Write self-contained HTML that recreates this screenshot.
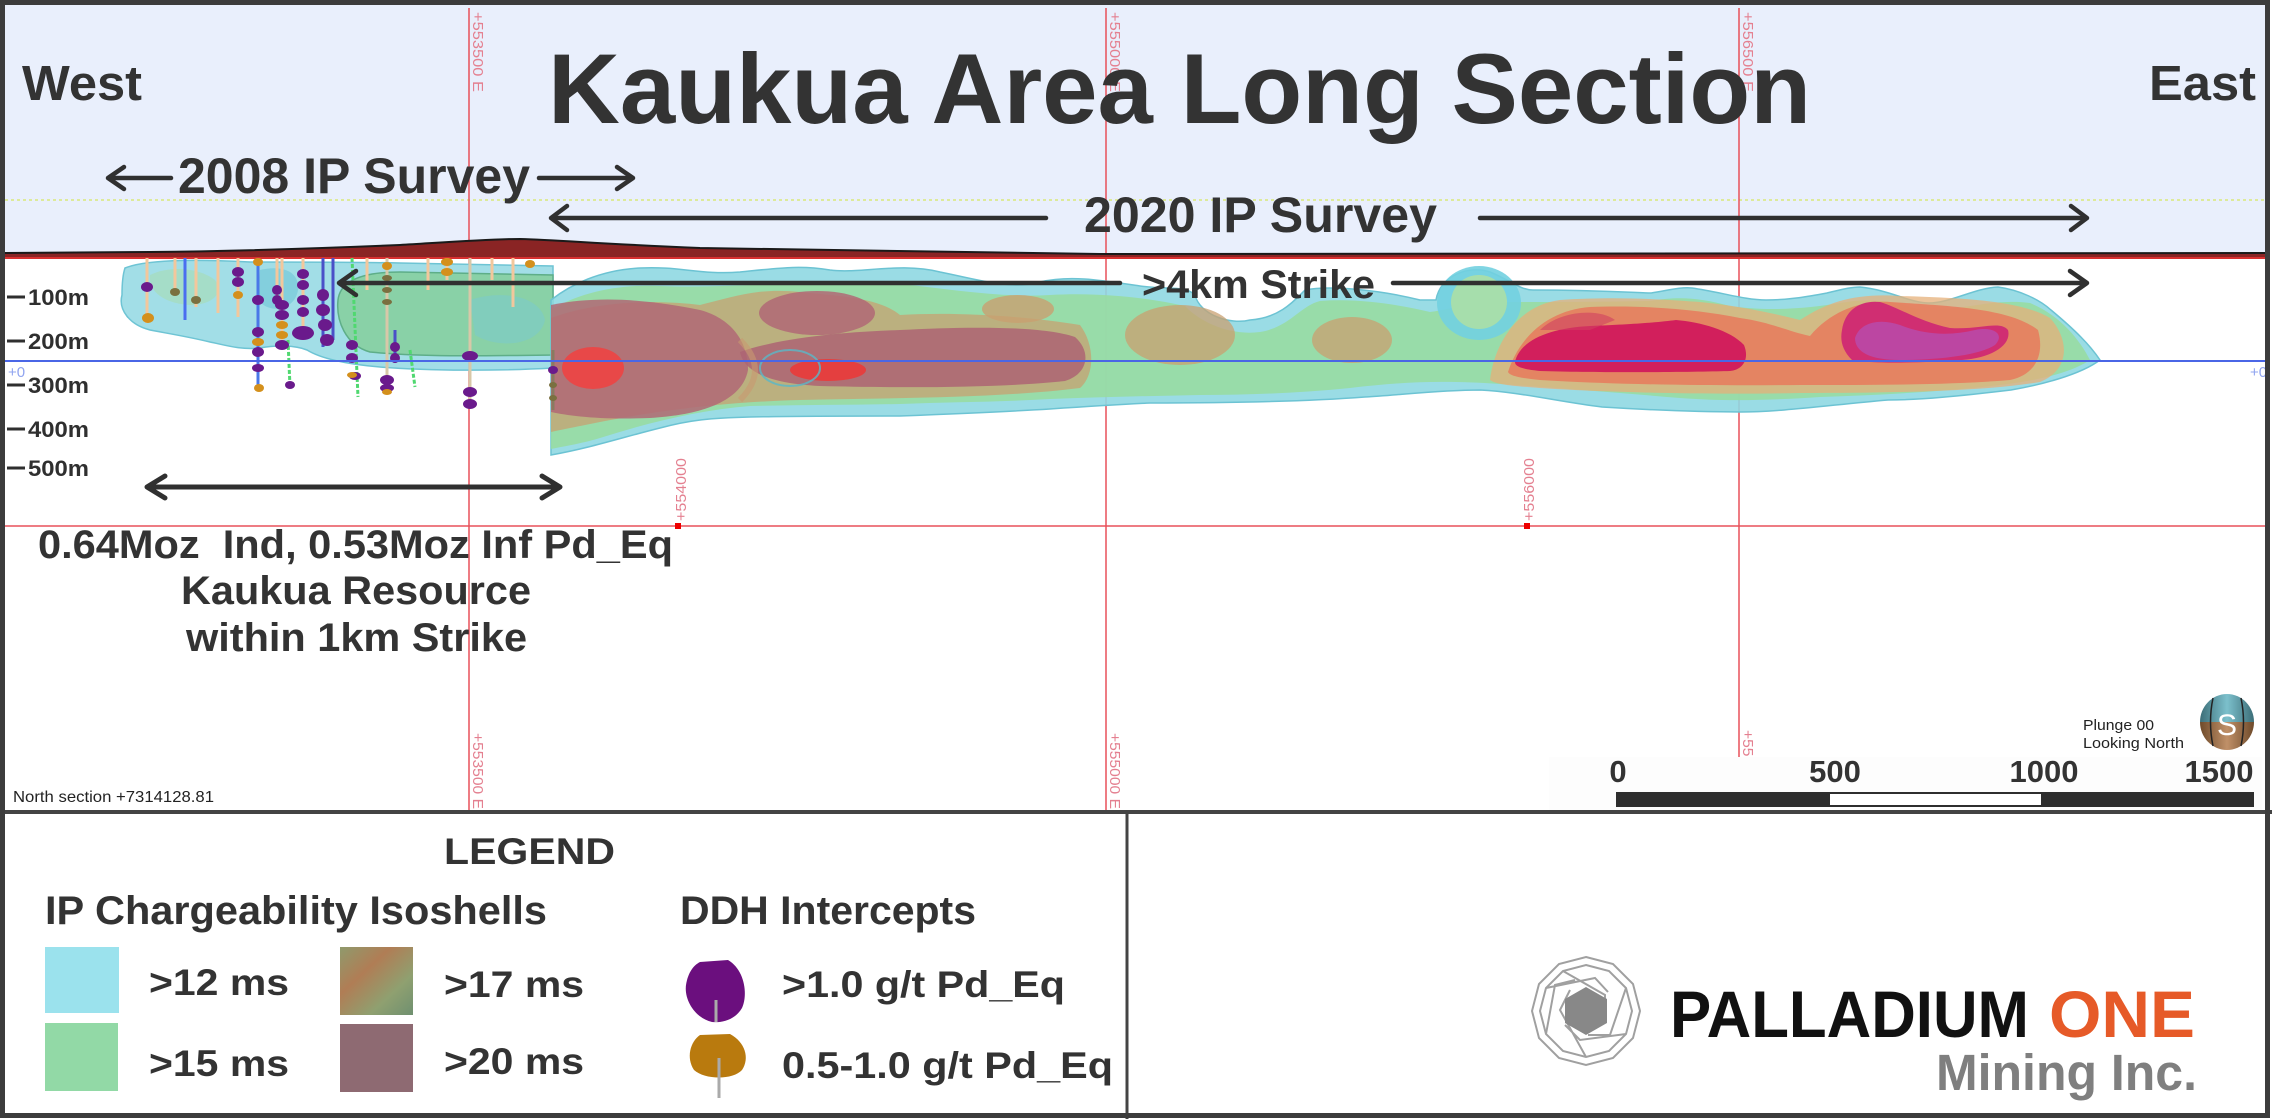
<!DOCTYPE html>
<html><head><meta charset="utf-8"><style>
html,body{margin:0;padding:0;background:#fff;}
svg{display:block;}
text{font-family:"Liberation Sans",Arial,sans-serif;}
</style></head><body>
<svg width="2272" height="1119" viewBox="0 0 2272 1119" xmlns="http://www.w3.org/2000/svg">
<defs>
<linearGradient id="g17" x1="0" y1="0" x2="1" y2="1"><stop offset="0" stop-color="#8f9a6c"/><stop offset="0.35" stop-color="#b07d55"/><stop offset="0.7" stop-color="#8fa070"/><stop offset="1" stop-color="#6f9070"/></linearGradient>
<linearGradient id="gc" x1="0" y1="0" x2="1" y2="0"><stop offset="0" stop-color="#3c6e78"/><stop offset="0.5" stop-color="#7cc0cc"/><stop offset="1" stop-color="#3c6e78"/></linearGradient>
<linearGradient id="gb" x1="0" y1="0" x2="1" y2="0"><stop offset="0" stop-color="#6e4a2a"/><stop offset="0.5" stop-color="#c09068"/><stop offset="1" stop-color="#6e4a2a"/></linearGradient>
</defs>
<rect x="0" y="0" width="2272" height="1119" fill="#fff"/>
<!-- top band -->
<rect x="5" y="5" width="2260" height="252" fill="#e9effc"/>
<line x1="5" y1="200" x2="2265" y2="200" stroke="#d9e87a" stroke-width="1.5" stroke-dasharray="3 3"/>

<!-- red grid verticals -->
<g stroke="#e8505a" stroke-width="1.5">
<line x1="469" y1="8" x2="469" y2="811"/>
<line x1="1106" y1="8" x2="1106" y2="811"/>
<line x1="1739" y1="8" x2="1739" y2="811"/>
<line x1="5" y1="526" x2="2265" y2="526"/>
</g>
<g font-size="15" fill="#e48090">
<text transform="translate(473,12) rotate(90)" textLength="80" lengthAdjust="spacingAndGlyphs">+553500 E</text>
<text transform="translate(1110,12) rotate(90)" textLength="80" lengthAdjust="spacingAndGlyphs">+555000 E</text>
<text transform="translate(1743,12) rotate(90)" textLength="80" lengthAdjust="spacingAndGlyphs">+556500 E</text>
<text transform="translate(473,733) rotate(90)" textLength="76" lengthAdjust="spacingAndGlyphs">+553500 E</text>
<text transform="translate(1110,733) rotate(90)" textLength="76" lengthAdjust="spacingAndGlyphs">+555000 E</text>
<text transform="translate(1743,730) rotate(90)" textLength="76" lengthAdjust="spacingAndGlyphs">+556500 E</text>
<text transform="translate(686,521) rotate(-90)" textLength="63" lengthAdjust="spacingAndGlyphs">+554000</text>
<text transform="translate(1534,521) rotate(-90)" textLength="63" lengthAdjust="spacingAndGlyphs">+556000</text>
</g>
<rect x="675" y="523" width="6" height="6" fill="#e00"/>
<rect x="1524" y="523" width="6" height="6" fill="#e00"/>

<!-- topography -->
<path d="M5 253 L150 252 C250 251,330 248,400 245 C450 242,490 239,520 239 C560 240,600 244,700 248 C800 250,950 252,1100 254 L2265 253 L2265 259 L5 259 Z" fill="#8a2424"/>
<path d="M5 253 L150 252 C250 251,330 248,400 245 C450 242,490 239,520 239 C560 240,600 244,700 248 C800 250,950 252,1100 254 L2265 253" fill="none" stroke="#1a1a1a" stroke-width="2"/>
<line x1="5" y1="258" x2="2265" y2="258" stroke="#d83030" stroke-width="2"/>

<!-- WEST isoshells -->
<g>
<path d="M125 268 C150 258,210 260,250 262 C300 262,350 262,400 263 L553 266 L553 368 C500 371,430 371,380 367 C345 364,320 358,307 350 C295 345,275 345,260 348 C240 350,225 345,210 342 C185 336,165 333,150 330 C130 325,118 310,122 295 C122 282,123 274,125 268 Z" fill="#92d8e3" fill-opacity="0.85" stroke="#6ec4d4" stroke-width="1.5"/>
<path d="M150 275 C170 265,200 268,215 280 C225 295,210 305,190 305 C170 304,148 295,150 275 Z" fill="#a6dcc0" fill-opacity="0.8"/>
<path d="M260 270 C280 265,300 270,298 290 C295 310,270 315,258 300 Z" fill="#76c9d9" fill-opacity="0.7"/>
<path d="M338 300 C340 282,360 272,400 272 L553 275 L553 355 C480 356,420 357,370 352 C345 345,336 320,338 300 Z" fill="#86cfa0" fill-opacity="0.9" stroke="#5eae88" stroke-width="1.5"/>
<path d="M470 300 C500 290,540 295,545 320 C540 345,500 350,475 335 Z" fill="#7cc9c9" fill-opacity="0.6"/>
</g>

<!-- EAST isoshells -->
<g>
<!-- cyan envelope -->
<path d="M551 300 C570 285,600 270,640 268 C680 266,700 275,740 272 C780 268,800 265,830 270 C860 274,900 262,940 272 C980 280,1010 290,1040 282 C1070 275,1100 280,1140 286 C1170 290,1185 285,1195 295 C1200 315,1230 325,1250 320 C1280 318,1295 300,1305 290 C1330 285,1380 290,1420 300 L1436 300 C1440 275,1470 265,1490 272 C1510 280,1520 290,1533 290 C1600 290,1640 293,1651 293 C1670 290,1680 287,1692 288 C1720 292,1745 300,1766 300 C1790 300,1810 296,1827 293 C1840 290,1850 287,1860 287 C1890 290,1910 303,1929 303 C1950 303,1975 288,1998 287 C2020 290,2040 300,2051 310 C2075 330,2090 345,2100 360 C2080 375,2040 385,2011 390 C1960 396,1920 400,1888 400 C1830 405,1780 412,1741 412 C1700 412,1650 410,1602 407 C1560 402,1520 392,1480 390 C1440 390,1400 395,1365 397 C1300 402,1220 403,1150 403 C1110 405,1080 407,1050 409 C1000 412,950 414,900 416 C850 416,800 416,750 417 C710 418,690 420,660 428 C620 438,590 448,551 455 Z" fill="#8fd8e2" fill-opacity="0.9" stroke="#6cc3d3" stroke-width="1.5"/>
<!-- green -->
<path d="M551 310 C580 292,620 284,660 286 C700 288,740 285,780 284 C820 283,860 280,900 284 C950 289,1000 298,1050 295 C1100 292,1150 298,1185 306 C1200 322,1230 336,1260 332 C1290 327,1300 306,1320 301 C1360 298,1400 305,1430 312 C1460 308,1480 298,1500 302 C1540 302,1600 302,1650 301 C1680 296,1700 298,1730 306 C1770 312,1810 308,1840 303 C1870 298,1890 300,1920 310 C1960 312,1990 298,2030 303 C2060 315,2080 340,2090 360 C2070 373,2040 380,2000 385 C1940 392,1880 395,1820 397 C1760 401,1720 401,1680 398 C1620 393,1560 388,1500 384 C1440 380,1400 382,1350 388 C1300 393,1250 395,1200 395 C1150 396,1100 397,1050 399 C1000 402,950 402,900 404 C850 405,800 405,750 406 C700 410,650 422,600 438 C580 444,560 447,551 449 Z" fill="#98dba2" fill-opacity="0.9"/>
<!-- tan -->
<path d="M551 318 C600 300,660 300,700 305 C740 295,760 288,800 292 C840 296,880 298,900 315 C950 312,1020 315,1080 325 C1095 345,1095 375,1080 388 C1000 398,900 398,800 400 C720 402,650 412,600 422 C580 426,560 430,551 432 Z" fill="#c7a272" fill-opacity="0.75"/>
<ellipse cx="1018" cy="309" rx="36" ry="14" fill="#c9a070" fill-opacity="0.8"/>
<ellipse cx="1180" cy="335" rx="55" ry="30" fill="#c9a070" fill-opacity="0.75"/>
<ellipse cx="1352" cy="340" rx="40" ry="23" fill="#c9a070" fill-opacity="0.75"/>
<ellipse cx="1479" cy="303" rx="42" ry="37" fill="#72d0e0" fill-opacity="0.9"/>
<ellipse cx="1479" cy="302" rx="28" ry="27" fill="#acdfa6" fill-opacity="0.9"/>
<!-- mauve mid -->
<path d="M551 305 C600 295,650 300,700 310 C730 318,748 340,748 370 C742 402,700 415,650 418 C600 420,570 416,551 412 Z" fill="#b06876" fill-opacity="0.85"/>
<ellipse cx="817" cy="313" rx="58" ry="22" fill="#b06876" fill-opacity="0.85"/>
<path d="M740 352 C780 338,840 332,900 330 C960 327,1040 325,1075 337 C1092 352,1088 374,1065 381 C1000 388,900 388,820 386 C780 384,745 376,740 352 Z" fill="#ad6473" fill-opacity="0.85"/>
<path d="M740 340 C760 360,760 380,740 400" fill="none" stroke="#c89a70" stroke-width="6" opacity="0.6"/>
<ellipse cx="593" cy="368" rx="31" ry="21" fill="#e84848"/>
<ellipse cx="828" cy="370" rx="38" ry="11" fill="#e43f3f"/>
<ellipse cx="790" cy="368" rx="30" ry="18" fill="none" stroke="#5ab8c8" stroke-width="2" opacity="0.8"/>
<!-- east body -->
<path d="M1490 380 C1495 340,1520 305,1560 300 C1620 296,1670 300,1700 302 C1730 305,1760 310,1800 320 C1830 300,1860 293,1900 296 C1960 298,2020 300,2050 318 C2070 340,2070 370,2040 382 C1980 392,1880 393,1800 393 C1700 395,1600 392,1540 388 C1510 386,1495 384,1490 380 Z" fill="#e6b07a" fill-opacity="0.75"/>
<path d="M1508 372 C1520 335,1550 310,1590 307 C1650 305,1700 310,1740 318 C1770 322,1790 332,1810 336 C1830 312,1860 300,1890 302 C1950 306,2010 308,2038 330 C2045 355,2035 375,2010 380 C1950 385,1880 385,1800 385 C1700 386,1600 384,1540 380 C1520 378,1510 376,1508 372 Z" fill="#e87a5c" fill-opacity="0.85"/>
<path d="M1515 362 C1520 340,1550 328,1590 326 C1640 324,1660 322,1676 320 C1700 322,1730 330,1744 345 C1750 360,1742 370,1730 371 C1700 372,1600 373,1540 371 C1520 369,1515 366,1515 362 Z" fill="#d21f5c"/>
<path d="M1540 330 C1560 310,1600 308,1615 320 L1590 330 Z" fill="#d04060" fill-opacity="0.6"/>
<path d="M1842 330 C1845 310,1860 300,1880 302 C1900 308,1920 322,1950 328 C1980 330,2000 320,2008 330 C2012 345,1992 358,1962 360 C1920 363,1872 364,1852 360 C1842 350,1840 340,1842 330 Z" fill="#d02e72"/>
<path d="M1855 338 C1860 322,1880 318,1900 325 C1925 335,1950 336,1975 330 C1995 326,2005 335,1995 345 C1980 355,1940 360,1900 360 C1870 360,1855 352,1855 338 Z" fill="#b84aaa" fill-opacity="0.85"/>
</g>

<!-- drill holes -->
<g stroke-width="3" fill="none">
<line x1="147" y1="258" x2="147" y2="323" stroke="#f3c79c"/>
<line x1="175" y1="258" x2="175" y2="293" stroke="#f3c79c"/>
<line x1="185" y1="258" x2="185" y2="320" stroke="#4a6ef0"/>
<line x1="196" y1="258" x2="196" y2="307" stroke="#f3c79c"/>
<line x1="218" y1="258" x2="218" y2="313" stroke="#f3c79c"/>
<line x1="238" y1="258" x2="238" y2="317" stroke="#f3c79c"/>
<line x1="258" y1="258" x2="258" y2="388" stroke="#4a78e8"/>
<line x1="277" y1="258" x2="277" y2="307" stroke="#f3c79c"/>
<line x1="282" y1="258" x2="282" y2="347" stroke="#f3c79c"/>
<line x1="288" y1="340" x2="290" y2="387" stroke="#50d870" stroke-dasharray="4 2"/>
<line x1="303" y1="258" x2="303" y2="333" stroke="#f3c79c"/>
<line x1="323" y1="258" x2="323" y2="347" stroke="#4a50c8"/>
<line x1="333" y1="258" x2="333" y2="340" stroke="#4a50c8"/>
<line x1="352" y1="258" x2="358" y2="397" stroke="#50d870" stroke-dasharray="4 2"/>
<line x1="367" y1="258" x2="367" y2="290" stroke="#f3c79c"/>
<line x1="387" y1="258" x2="387" y2="393" stroke="#d8c8a8"/>
<line x1="395" y1="330" x2="395" y2="363" stroke="#4a50c8"/>
<line x1="410" y1="350" x2="415" y2="387" stroke="#50d870" stroke-dasharray="4 2"/>
<line x1="428" y1="258" x2="428" y2="290" stroke="#f3c79c"/>
<line x1="447" y1="258" x2="447" y2="280" stroke="#f3c79c"/>
<line x1="470" y1="258" x2="470" y2="405" stroke="#d8c8a8"/>
<line x1="492" y1="258" x2="492" y2="280" stroke="#f3c79c"/>
<line x1="513" y1="258" x2="513" y2="307" stroke="#f3c79c"/>
<line x1="553" y1="350" x2="553" y2="410" stroke="#8a7a60"/>
</g>
<g fill="#6a1a8c">
<ellipse cx="147" cy="287" rx="6" ry="5"/>
<ellipse cx="238" cy="272" rx="6" ry="5"/><ellipse cx="238" cy="282" rx="6" ry="5"/>
<ellipse cx="258" cy="300" rx="6" ry="5"/><ellipse cx="258" cy="332" rx="6" ry="5"/><ellipse cx="258" cy="352" rx="6" ry="5"/><ellipse cx="258" cy="368" rx="6" ry="4"/>
<ellipse cx="277" cy="290" rx="5" ry="5"/><ellipse cx="277" cy="300" rx="5" ry="5"/>
<ellipse cx="282" cy="305" rx="7" ry="5"/><ellipse cx="282" cy="315" rx="7" ry="5"/><ellipse cx="282" cy="345" rx="7" ry="5"/>
<ellipse cx="290" cy="385" rx="5" ry="4"/>
<ellipse cx="303" cy="274" rx="6" ry="5"/><ellipse cx="303" cy="285" rx="6" ry="5"/><ellipse cx="303" cy="300" rx="6" ry="5"/><ellipse cx="303" cy="312" rx="6" ry="5"/><ellipse cx="303" cy="333" rx="11" ry="7"/>
<ellipse cx="323" cy="295" rx="6" ry="6"/><ellipse cx="323" cy="310" rx="7" ry="6"/><ellipse cx="325" cy="325" rx="7" ry="6"/><ellipse cx="327" cy="340" rx="7" ry="6"/>
<ellipse cx="352" cy="345" rx="6" ry="5"/><ellipse cx="352" cy="358" rx="6" ry="5"/><ellipse cx="355" cy="376" rx="6" ry="4"/>
<ellipse cx="387" cy="380" rx="7" ry="5"/><ellipse cx="387" cy="388" rx="7" ry="4"/>
<ellipse cx="395" cy="347" rx="5" ry="5"/><ellipse cx="395" cy="358" rx="5" ry="5"/>
<ellipse cx="470" cy="356" rx="8" ry="5"/><ellipse cx="470" cy="392" rx="7" ry="5"/><ellipse cx="470" cy="404" rx="7" ry="5"/>
<ellipse cx="553" cy="370" rx="5" ry="4"/>
</g>
<g fill="#d4901c">
<ellipse cx="148" cy="318" rx="6" ry="5"/>
<ellipse cx="258" cy="262" rx="5" ry="4"/><ellipse cx="258" cy="342" rx="6" ry="4"/><ellipse cx="259" cy="388" rx="5" ry="4"/>
<ellipse cx="282" cy="325" rx="6" ry="4"/><ellipse cx="282" cy="335" rx="6" ry="4"/>
<ellipse cx="238" cy="295" rx="5" ry="4"/>
<ellipse cx="352" cy="375" rx="5" ry="3"/>
<ellipse cx="387" cy="266" rx="5" ry="4"/><ellipse cx="387" cy="392" rx="5" ry="3"/>
<ellipse cx="447" cy="262" rx="6" ry="4"/><ellipse cx="447" cy="272" rx="6" ry="4"/>
<ellipse cx="530" cy="264" rx="5" ry="4"/>
</g>
<g fill="#7a7040">
<ellipse cx="387" cy="278" rx="5" ry="3"/><ellipse cx="387" cy="290" rx="5" ry="3"/><ellipse cx="387" cy="302" rx="5" ry="3"/>
<ellipse cx="175" cy="292" rx="5" ry="4"/><ellipse cx="196" cy="300" rx="5" ry="4"/>
<ellipse cx="553" cy="385" rx="4" ry="3"/><ellipse cx="553" cy="398" rx="4" ry="3"/>
</g>

<!-- blue level line -->
<line x1="5" y1="361" x2="2265" y2="361" stroke="#4a66e6" stroke-width="2"/>
<text x="8" y="377" font-size="15" fill="#90a4f0">+0</text>
<text x="2250" y="377" font-size="15" fill="#90a4f0">+0</text>

<!-- depth labels -->
<g fill="#2f2f2f" font-weight="bold" font-size="22">
<text x="28" y="305" textLength="61" lengthAdjust="spacingAndGlyphs">100m</text>
<text x="28" y="349" textLength="61" lengthAdjust="spacingAndGlyphs">200m</text>
<text x="28" y="393" textLength="61" lengthAdjust="spacingAndGlyphs">300m</text>
<text x="28" y="437" textLength="61" lengthAdjust="spacingAndGlyphs">400m</text>
<text x="28" y="476" textLength="61" lengthAdjust="spacingAndGlyphs">500m</text>
</g>
<g stroke="#2f2f2f" stroke-width="3">
<line x1="7" y1="297" x2="25" y2="297"/>
<line x1="7" y1="341" x2="25" y2="341"/>
<line x1="7" y1="385" x2="25" y2="385"/>
<line x1="7" y1="429" x2="25" y2="429"/>
<line x1="7" y1="468" x2="25" y2="468"/>
</g>

<!-- arrows -->
<g stroke="#303030" stroke-width="4.5" fill="none" stroke-linecap="round" stroke-linejoin="round">
<line x1="110" y1="178" x2="171" y2="178"/><path d="M124 167 L108 178 L124 189"/>
<line x1="539" y1="178" x2="630" y2="178"/><path d="M617 167 L633 178 L617 189"/>
<line x1="553" y1="218" x2="1046" y2="218"/><path d="M567 206 L551 218 L567 230"/>
<line x1="1480" y1="218" x2="2085" y2="218"/><path d="M2071 206 L2087 218 L2071 230"/>
<line x1="341" y1="283" x2="1120" y2="283"/><path d="M356 271 L339 283 L356 295"/>
<line x1="1393" y1="283" x2="2085" y2="283"/><path d="M2070 271 L2087 283 L2070 295"/>
<line x1="149" y1="487" x2="558" y2="487" stroke-width="5"/><path d="M165 476 L147 487 L165 498" stroke-width="5"/><path d="M542 476 L560 487 L542 498" stroke-width="5"/>
</g>

<!-- texts top -->
<g fill="#333" font-weight="bold">
<text x="548" y="123" font-size="99" textLength="1263" lengthAdjust="spacingAndGlyphs">Kaukua Area Long Section</text>
<text x="22" y="100" font-size="49" textLength="120" lengthAdjust="spacingAndGlyphs">West</text>
<text x="2149" y="100" font-size="49" textLength="107" lengthAdjust="spacingAndGlyphs">East</text>
<text x="178" y="193" font-size="50" textLength="352" lengthAdjust="spacingAndGlyphs">2008 IP Survey</text>
<text x="1084" y="232" font-size="50" textLength="353" lengthAdjust="spacingAndGlyphs">2020 IP Survey</text>
<text x="1142" y="298" font-size="40" textLength="233" lengthAdjust="spacingAndGlyphs">&gt;4km Strike</text>
<text x="38" y="558" font-size="40" textLength="635" lengthAdjust="spacingAndGlyphs" xml:space="preserve">0.64Moz  Ind, 0.53Moz Inf Pd_Eq</text>
<text x="181" y="604" font-size="40" textLength="350" lengthAdjust="spacingAndGlyphs">Kaukua Resource</text>
<text x="186" y="651" font-size="40" textLength="341" lengthAdjust="spacingAndGlyphs">within 1km Strike</text>
</g>
<text x="13" y="802" font-size="16" fill="#222" textLength="201" lengthAdjust="spacingAndGlyphs">North section +7314128.81</text>

<!-- scale bar -->
<rect x="1549" y="757" width="713" height="53" fill="#fdfdfd"/>
<g fill="#333" font-weight="bold" font-size="31" text-anchor="middle">
<text x="1618" y="782">0</text>
<text x="1835" y="782">500</text>
<text x="2044" y="782">1000</text>
<text x="2219" y="782">1500</text>
</g>
<rect x="1616" y="792" width="638" height="15" fill="#2e2e2e"/>
<rect x="1830" y="794" width="211" height="11" fill="#fff"/>
<text x="2083" y="730" font-size="15" fill="#222" textLength="71" lengthAdjust="spacingAndGlyphs">Plunge 00</text>
<text x="2083" y="748" font-size="15" fill="#222" textLength="101" lengthAdjust="spacingAndGlyphs">Looking North</text>
<!-- compass -->
<path d="M2200 722 A27 28 0 0 1 2254 722 Z" fill="url(#gc)"/>
<path d="M2200 722 A27 28 0 0 0 2254 722 Z" fill="url(#gb)"/>
<path d="M2213 698 Q2208 722 2213 746 M2241 698 Q2246 722 2241 746" stroke="#222" stroke-width="1.5" fill="none"/>
<text x="2227" y="735" font-size="30" fill="#fff" text-anchor="middle" font-family="Liberation Serif,serif">S</text>

<!-- separators & frame -->
<line x1="0" y1="812" x2="2272" y2="812" stroke="#444" stroke-width="4"/>
<line x1="1127" y1="812" x2="1127" y2="1119" stroke="#444" stroke-width="3"/>
<rect x="2.5" y="2.5" width="2265" height="1113" fill="none" stroke="#3c3c3c" stroke-width="5"/>

<!-- legend -->
<g fill="#333" font-weight="bold">
<text x="444" y="864" font-size="37" textLength="171" lengthAdjust="spacingAndGlyphs">LEGEND</text>
<text x="45" y="924" font-size="40" textLength="502" lengthAdjust="spacingAndGlyphs">IP Chargeability Isoshells</text>
<text x="680" y="924" font-size="40" textLength="296" lengthAdjust="spacingAndGlyphs">DDH Intercepts</text>
<text x="149" y="995" font-size="37" textLength="140" lengthAdjust="spacingAndGlyphs">&gt;12 ms</text>
<text x="149" y="1076" font-size="37" textLength="140" lengthAdjust="spacingAndGlyphs">&gt;15 ms</text>
<text x="444" y="997" font-size="37" textLength="140" lengthAdjust="spacingAndGlyphs">&gt;17 ms</text>
<text x="444" y="1074" font-size="37" textLength="140" lengthAdjust="spacingAndGlyphs">&gt;20 ms</text>
<text x="782" y="997" font-size="37" textLength="283" lengthAdjust="spacingAndGlyphs">&gt;1.0 g/t Pd_Eq</text>
<text x="782" y="1078" font-size="37" textLength="331" lengthAdjust="spacingAndGlyphs">0.5-1.0 g/t Pd_Eq</text>
</g>
<rect x="45" y="947" width="74" height="66" fill="#9be2ed"/>
<rect x="45" y="1023" width="73" height="68" fill="#92d9a6"/>
<rect x="340" y="947" width="73" height="68" fill="url(#g17)"/>
<rect x="340" y="1024" width="73" height="68" fill="#8e6a72"/>
<path d="M700 962 L728 960 C745 970,748 995,742 1008 C735 1020,722 1023,712 1022 C695 1018,684 1000,686 985 C688 972,694 965,700 962 Z" fill="#6b0f7e"/>
<line x1="716" y1="1000" x2="716" y2="1022" stroke="#aaa" stroke-width="3"/>
<path d="M700 1035 L730 1034 C745 1042,750 1058,742 1070 C733 1080,705 1080,694 1070 C686 1058,690 1042,700 1035 Z" fill="#b97a0e"/>
<line x1="719" y1="1058" x2="719" y2="1098" stroke="#aaa" stroke-width="3"/>

<!-- logo -->
<g stroke="#a0a0a0" stroke-width="2" fill="none">
<polygon points="1586,957 1613,964 1633,984 1640,1011 1633,1038 1613,1058 1586,1065 1559,1058 1539,1038 1532,1011 1539,984 1559,964"/>
<polygon points="1586,965 1609,971 1626,988 1632,1011 1626,1034 1609,1051 1586,1057 1563,1051 1546,1034 1540,1011 1546,988 1563,971"/>
<path d="M1563 971 L1605 995 L1605 1020 M1626 988 L1610 1035 L1588 1035 M1626 1034 L1580 1040 L1565 1025 M1586 1057 L1560 1010 L1570 990 M1546 1034 L1555 985 L1575 980 M1546 988 L1595 978 L1608 992"/>
</g>
<polygon points="1586,987 1607,999 1607,1023 1586,1035 1565,1023 1565,999" fill="#888"/>
<text x="1670" y="1037" font-size="66" font-weight="bold" fill="#111" textLength="359" lengthAdjust="spacingAndGlyphs">PALLADIUM</text>
<text x="2049" y="1037" font-size="66" font-weight="bold" fill="#e65a28" textLength="146" lengthAdjust="spacingAndGlyphs">ONE</text>
<text x="1936" y="1090" font-size="51" font-weight="bold" fill="#7f7f7f" textLength="261" lengthAdjust="spacingAndGlyphs">Mining Inc.</text>
</svg>
</body></html>
